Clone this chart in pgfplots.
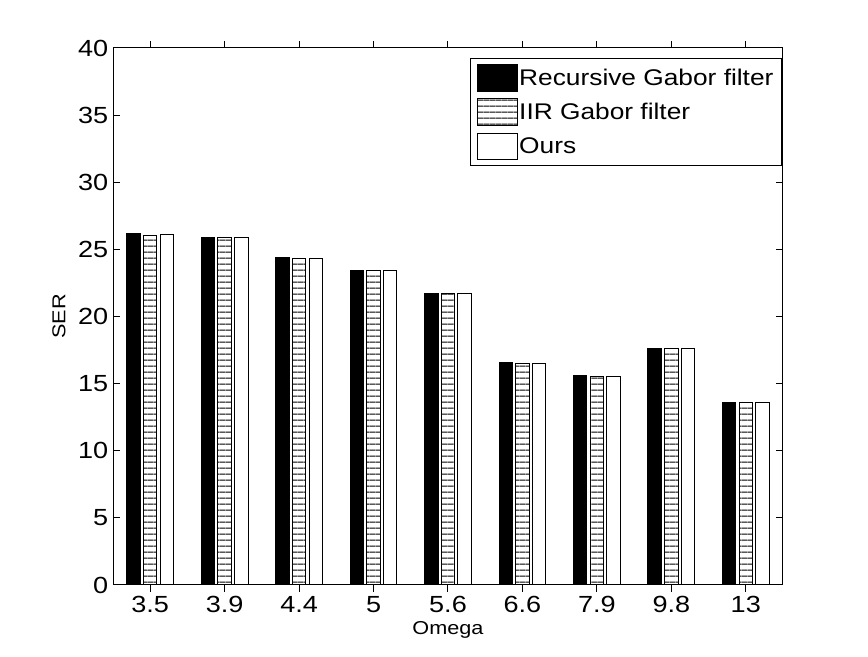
\documentclass[border=0pt]{standalone}
\usepackage{fontspec}
\setmainfont{Liberation Sans}[FakeStretch=1.16]
\usepackage{pgfplots}
\pgfplotsset{compat=1.18}
\usetikzlibrary{patterns.meta}

\pgfplotstableread{
x rec iir ours
0 26.15 26.05 26.10
1 25.92 25.90 25.90
2 24.36 24.33 24.33
3 23.46 23.44 23.44
4 21.75 21.73 21.73
5 16.54 16.52 16.52
6 15.57 15.55 15.55
7 17.65 17.63 17.63
8 13.63 13.61 13.61
}\datatable

\begin{document}
\begin{tikzpicture}
\path[use as bounding box] (0pt,0pt) rectangle (651pt,492.75pt);
\begin{axis}[
  at={(84.75pt,54pt)}, anchor=south west,
  scale only axis, width=502.5pt, height=402.75pt,
  xmin=-0.5, xmax=8.5, ymin=0, ymax=40,
  xtick={0,...,8},
  xticklabels={3.5,3.9,4.4,5,5.6,6.6,7.9,9.8,13},
  ytick={0,5,...,40},
  tick align=inside, major tick length=5pt,
  axis line style={line width=0.75pt},
  every tick/.style={line width=0.75pt, black},
  /pgf/number format/assume math mode=true,
  tick label style={font=\fontsize{17.5}{20}\selectfont},
  xlabel={Omega}, ylabel={SER},
  label style={font=\fontsize{14}{16}\selectfont},
  xlabel style={at={(axis description cs:0.5,0)}, anchor=center, yshift=-33.75pt},
  ylabel style={at={(axis description cs:-0.0806,0.5)}, anchor=center},
  ybar=2.4pt, bar width=10.1pt,
  legend style={at={(0.9985,0.981)}, anchor=north east, draw=black, line width=0.75pt,
    font=\fontsize{17}{20}\selectfont, row sep=5pt, inner xsep=5pt, inner ysep=4pt,
    nodes={inner sep=1pt}},
  legend cell align=left,
  legend image code/.code={\draw[#1] (0pt,-10pt) rectangle (30pt,10pt);},
]
\addplot[draw=black, line width=0.75pt, fill=black] table[x=x,y=rec] {\datatable};
\addplot[draw=black, line width=0.75pt, pattern={Lines[angle=0,distance=4.35pt,line width=0.75pt]}] table[x=x,y=iir] {\datatable};
\addplot[draw=black, line width=0.75pt, fill=white] table[x=x,y=ours] {\datatable};
\legend{Recursive Gabor filter\hspace{7pt}, IIR Gabor filter, Ours}
\end{axis}
\end{tikzpicture}
\end{document}
